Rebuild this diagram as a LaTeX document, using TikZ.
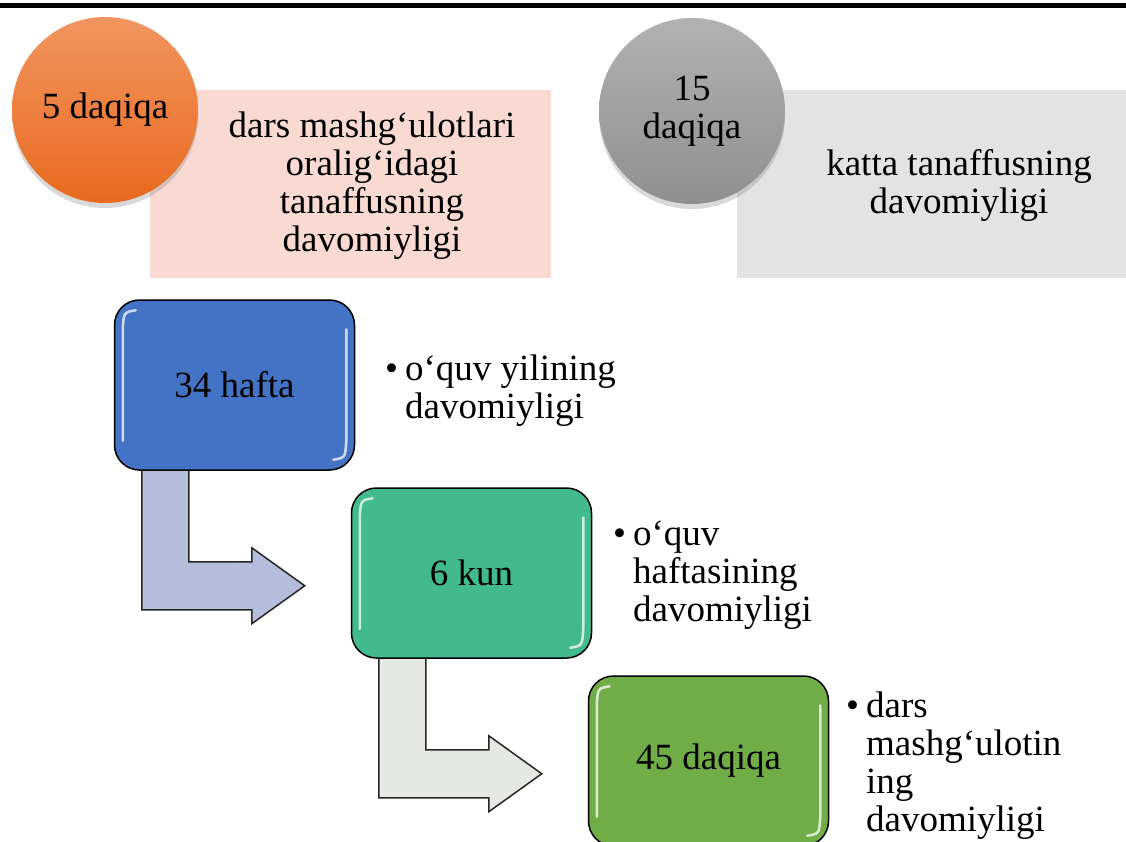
\documentclass[tikz,border=0pt]{standalone}
\usepackage{fontspec}
\setmainfont{Liberation Serif}
\usetikzlibrary{shadows,calc,backgrounds}
\definecolor{orangeTop}{HTML}{F29560}
\definecolor{orangeBot}{HTML}{E86A1E}
\definecolor{grayTop}{HTML}{B2B2B2}
\definecolor{grayBot}{HTML}{8F8F8F}
\definecolor{pinkBg}{HTML}{F8DAD2}
\definecolor{grayBg}{HTML}{E3E3E3}
\definecolor{boxBlue}{HTML}{4472C4}
\definecolor{boxTeal}{HTML}{43BA8E}
\definecolor{boxGreen}{HTML}{70AD47}
\definecolor{arrowBlue}{HTML}{B4BEDA}
\definecolor{arrowGray}{HTML}{E6E8E4}
\tikzset{
 bigfont/.style={font=\fontsize{37}{38}\selectfont},
 txt/.style={bigfont, text=black, align=center, inner sep=0pt},
 disc/.style={circle, minimum size=186pt, inner sep=0pt, bigfont, align=center,
   drop shadow={opacity=0.3, shadow xshift=0pt, shadow yshift=-5pt}},
 panel/.style={rectangle, inner sep=0pt, draw=none, minimum height=188pt},
 stepbox/.style={rectangle, rounded corners=25pt, draw=black, line width=1.5pt,
   minimum width=240pt, minimum height=170pt, bigfont},
 bentarrow/.style={draw=black!85, line width=1.5pt, line join=miter},
 gloss/.style={white, line width=2.5pt, opacity=0.75, line cap=round},
 bullets/.style={anchor=north west, inner sep=0pt, bigfont},
}
\newcommand\glossy[1]{%
 \draw[gloss] ($(#1.north west)+(22,11)$) .. controls ($(#1.north west)+(10,13)$) .. ($(#1.north west)+(9,30)$) -- ($(#1.south west)+(9,-30)$);
 \draw[gloss] ($(#1.north east)+(-9,30)$) -- ($(#1.south east)+(-9,-30)$) .. controls ($(#1.south east)+(-10,-13)$) .. ($(#1.south east)+(-22,-11)$);
}
\newcommand\bendarrow[2]{%
 \draw[bentarrow, fill=#2, shift={(#1.south west)}] (28,-6) -- (75,-6) -- (75,91) -- (138,91) -- (138,77) -- (191,115) -- (138,153) -- (138,139) -- (28,139) -- cycle;
}
\begin{document}
\begin{tikzpicture}[x=1pt,y=-1pt]
\useasboundingbox (0,0) rectangle (1126,841);
\clip (0,0) rectangle (1126,841);
\draw[line width=5pt] (0,5) -- (1126,5);
% top panels
\node[panel, fill=pinkBg, minimum width=401pt] (p1) at (350.5,184) {};
\node[txt] (p1t) at (372,186) {dars mashg‘ulotlari\\oralig‘idagi\\tanaffusning\\davomiyligi};
\node[panel, fill=grayBg, minimum width=389pt] (p2) at (931.5,184) {};
\node[txt] (p2t) at (959,185) {katta tanaffusning\\davomiyligi};
\node[disc, top color=orangeTop, bottom color=orangeBot] (c1) at (105,110) {5 daqiqa};
\node[disc, top color=grayTop, bottom color=grayBot] (c2) at (692,111) {15\\daqiqa};
% step boxes
\node[stepbox, fill=boxBlue] (b1) at (234.5,385) {34 hafta};
\node[stepbox, fill=boxTeal] (b2) at (471.5,573) {6 kun};
\node[stepbox, fill=boxGreen] (b3) at (708.5,761) {45 daqiqa};
\glossy{b1}
\glossy{b2}
\glossy{b3}
\begin{scope}[on background layer]
\bendarrow{b1}{arrowBlue}
\bendarrow{b2}{arrowGray}
\end{scope}
% bullet texts
\node[bullets] (l1) at (385,353.4) {\begin{tabular}{@{}l@{\hspace{7pt}}l@{}}•&o‘quv yilining\\&davomiyligi\end{tabular}};
\node[bullets] (l2) at (613,518.4) {\begin{tabular}{@{}l@{\hspace{7pt}}l@{}}•&o‘quv\\&haftasining\\&davomiyligi\end{tabular}};
\node[bullets] (l3) at (846,690.4) {\begin{tabular}{@{}l@{\hspace{7pt}}l@{}}•&dars\\&mashg‘ulotin\\&ing\\&davomiyligi\end{tabular}};
\end{tikzpicture}
\end{document}
